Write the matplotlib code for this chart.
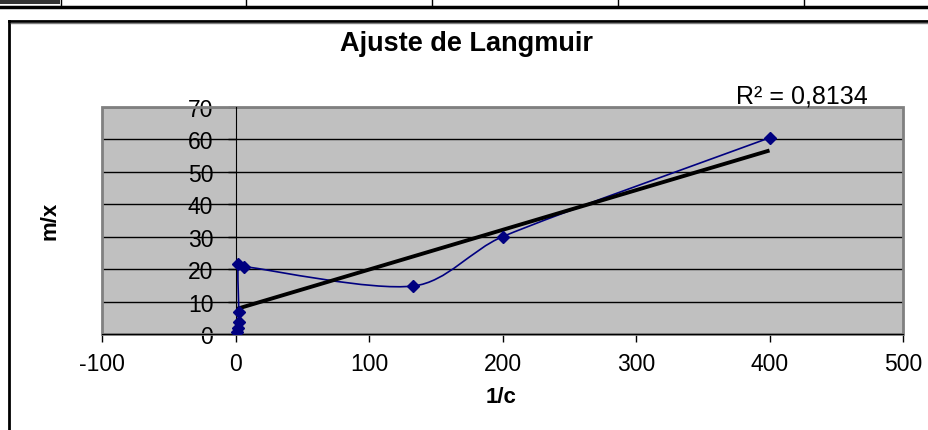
import numpy as np
import matplotlib
matplotlib.use('Agg')
import matplotlib.pyplot as plt
from matplotlib.path import Path
from matplotlib.patches import PathPatch, Rectangle


# data
inv_c = [400, 200, 133.3, 6.7, 2.0, 2.5, 2.5, 2.0, 1.0]
m_x = [60.5, 30.0, 14.8, 20.8, 21.5, 6.7, 3.6, 1.8, 0.7]
xticks = [-100, 0, 100, 200, 300, 400, 500]
yticks = [0, 10, 20, 30, 40, 50, 60, 70]
title = 'Ajuste de Langmuir'
r2_label = 'R² = 0,8134'

plt.rcParams['font.family'] = ['Liberation Sans', 'DejaVu Sans']
plt.rcParams['axes.unicode_minus'] = False

W, H = 929, 431
fig = plt.figure(figsize=(W / 100, H / 100), dpi=100)


# spreadsheet bits around the chart (pixel coords)
bg = fig.add_axes([0, 0, 1, 1])
bg.set_xlim(0, W)
bg.set_ylim(H, 0)
bg.axis('off')
bg.add_patch(Rectangle((0, 0), 60, 5, color='#333333', lw=0))
bg.plot([0, W], [7.5, 7.5], color='black', lw=2.5)
for cx in [61, 246, 432, 618, 804]:
    bg.plot([cx, cx], [0, 6], color='black', lw=1)
bg.plot([9.5, 9.5], [22, H], color='black', lw=2)
bg.plot([9, W], [22, 22], color='black', lw=2)
bg.plot([11, W], [24, 24], color='#808080', lw=1)


# plot area
ax = fig.add_axes([102 / W, (H - 335) / H, 801 / W, 227 / H])
ax.set_facecolor('#C0C0C0')
ax.set_xlim(-100, 500)
ax.set_ylim(0, 70)
ax.set_xticks(xticks)
ax.set_yticks(yticks)
ax.grid(axis='y', color='black', lw=1, zorder=1)
ax.set_axisbelow(True)

for s in ['top', 'right']:
    ax.spines[s].set_visible(False)
ax.spines['left'].set_position(('data', 0))
ax.spines['left'].set_color('black')
ax.spines['bottom'].set_color('black')
ax.spines['left'].set_zorder(3)
ax.spines['bottom'].set_zorder(4)
ax.add_patch(Rectangle((0, 0), 1, 1, transform=ax.transAxes, fill=False,
                       edgecolor='#808080', lw=2, clip_on=False, zorder=2))

ax.tick_params(axis='both', direction='out', length=6, width=1, labelsize=16.5, colors='black')
ax.tick_params(axis='y', pad=10)
ax.tick_params(axis='x', pad=7)


# smoothed series line (Excel style bezier), handles capped on short segments
sx, sy = 801 / 600, 227 / 70
pts = np.column_stack([inv_c, m_x]) * [sx, sy]
verts = [pts[0]]
codes = [Path.MOVETO]
n = len(pts)


def cap(v, seg):
    L = np.hypot(*v)
    lim = seg / 3
    return v * (lim / L) if L > lim and L > 0 else v


for i in range(n - 1):
    p0 = pts[max(i - 1, 0)]
    p1 = pts[i]
    p2 = pts[i + 1]
    p3 = pts[min(i + 2, n - 1)]
    seg = np.hypot(*(p2 - p1))
    c1 = p1 + cap((p2 - p0) / 6, seg)
    c2 = p2 - cap((p3 - p1) / 6, seg)
    verts += [c1, c2, p2]
    codes += [Path.CURVE4] * 3
verts = np.array(verts) / [sx, sy]
ax.add_patch(PathPatch(Path(verts, codes), fill=False, edgecolor='#000080', lw=1.2, zorder=5))
ax.plot(inv_c, m_x, linestyle='none', marker='D', markersize=6, color='#000080', zorder=6)


# linear trendline
k, b = np.polyfit(inv_c, m_x, 1)
tx = np.array([min(inv_c), max(inv_c)])
ax.plot(tx, k * tx + b, color='black', lw=2.8, zorder=5, solid_capstyle='butt')


# texts
fig.text(467 / W, 1 - 44 / H, title, ha='center', va='center', fontsize=19.5, fontweight='bold')
fig.text(501 / W, 1 - 398 / H, '1/c', ha='center', va='center', fontsize=16, fontweight='bold')
fig.text(50 / W, 1 - 221 / H, 'm/x', ha='center', va='center', rotation=90, fontsize=16, fontweight='bold')
fig.text(736 / W, 1 - 97 / H, r2_label, ha='left', va='center', fontsize=18)

plt.savefig('out.png', dpi=100)
